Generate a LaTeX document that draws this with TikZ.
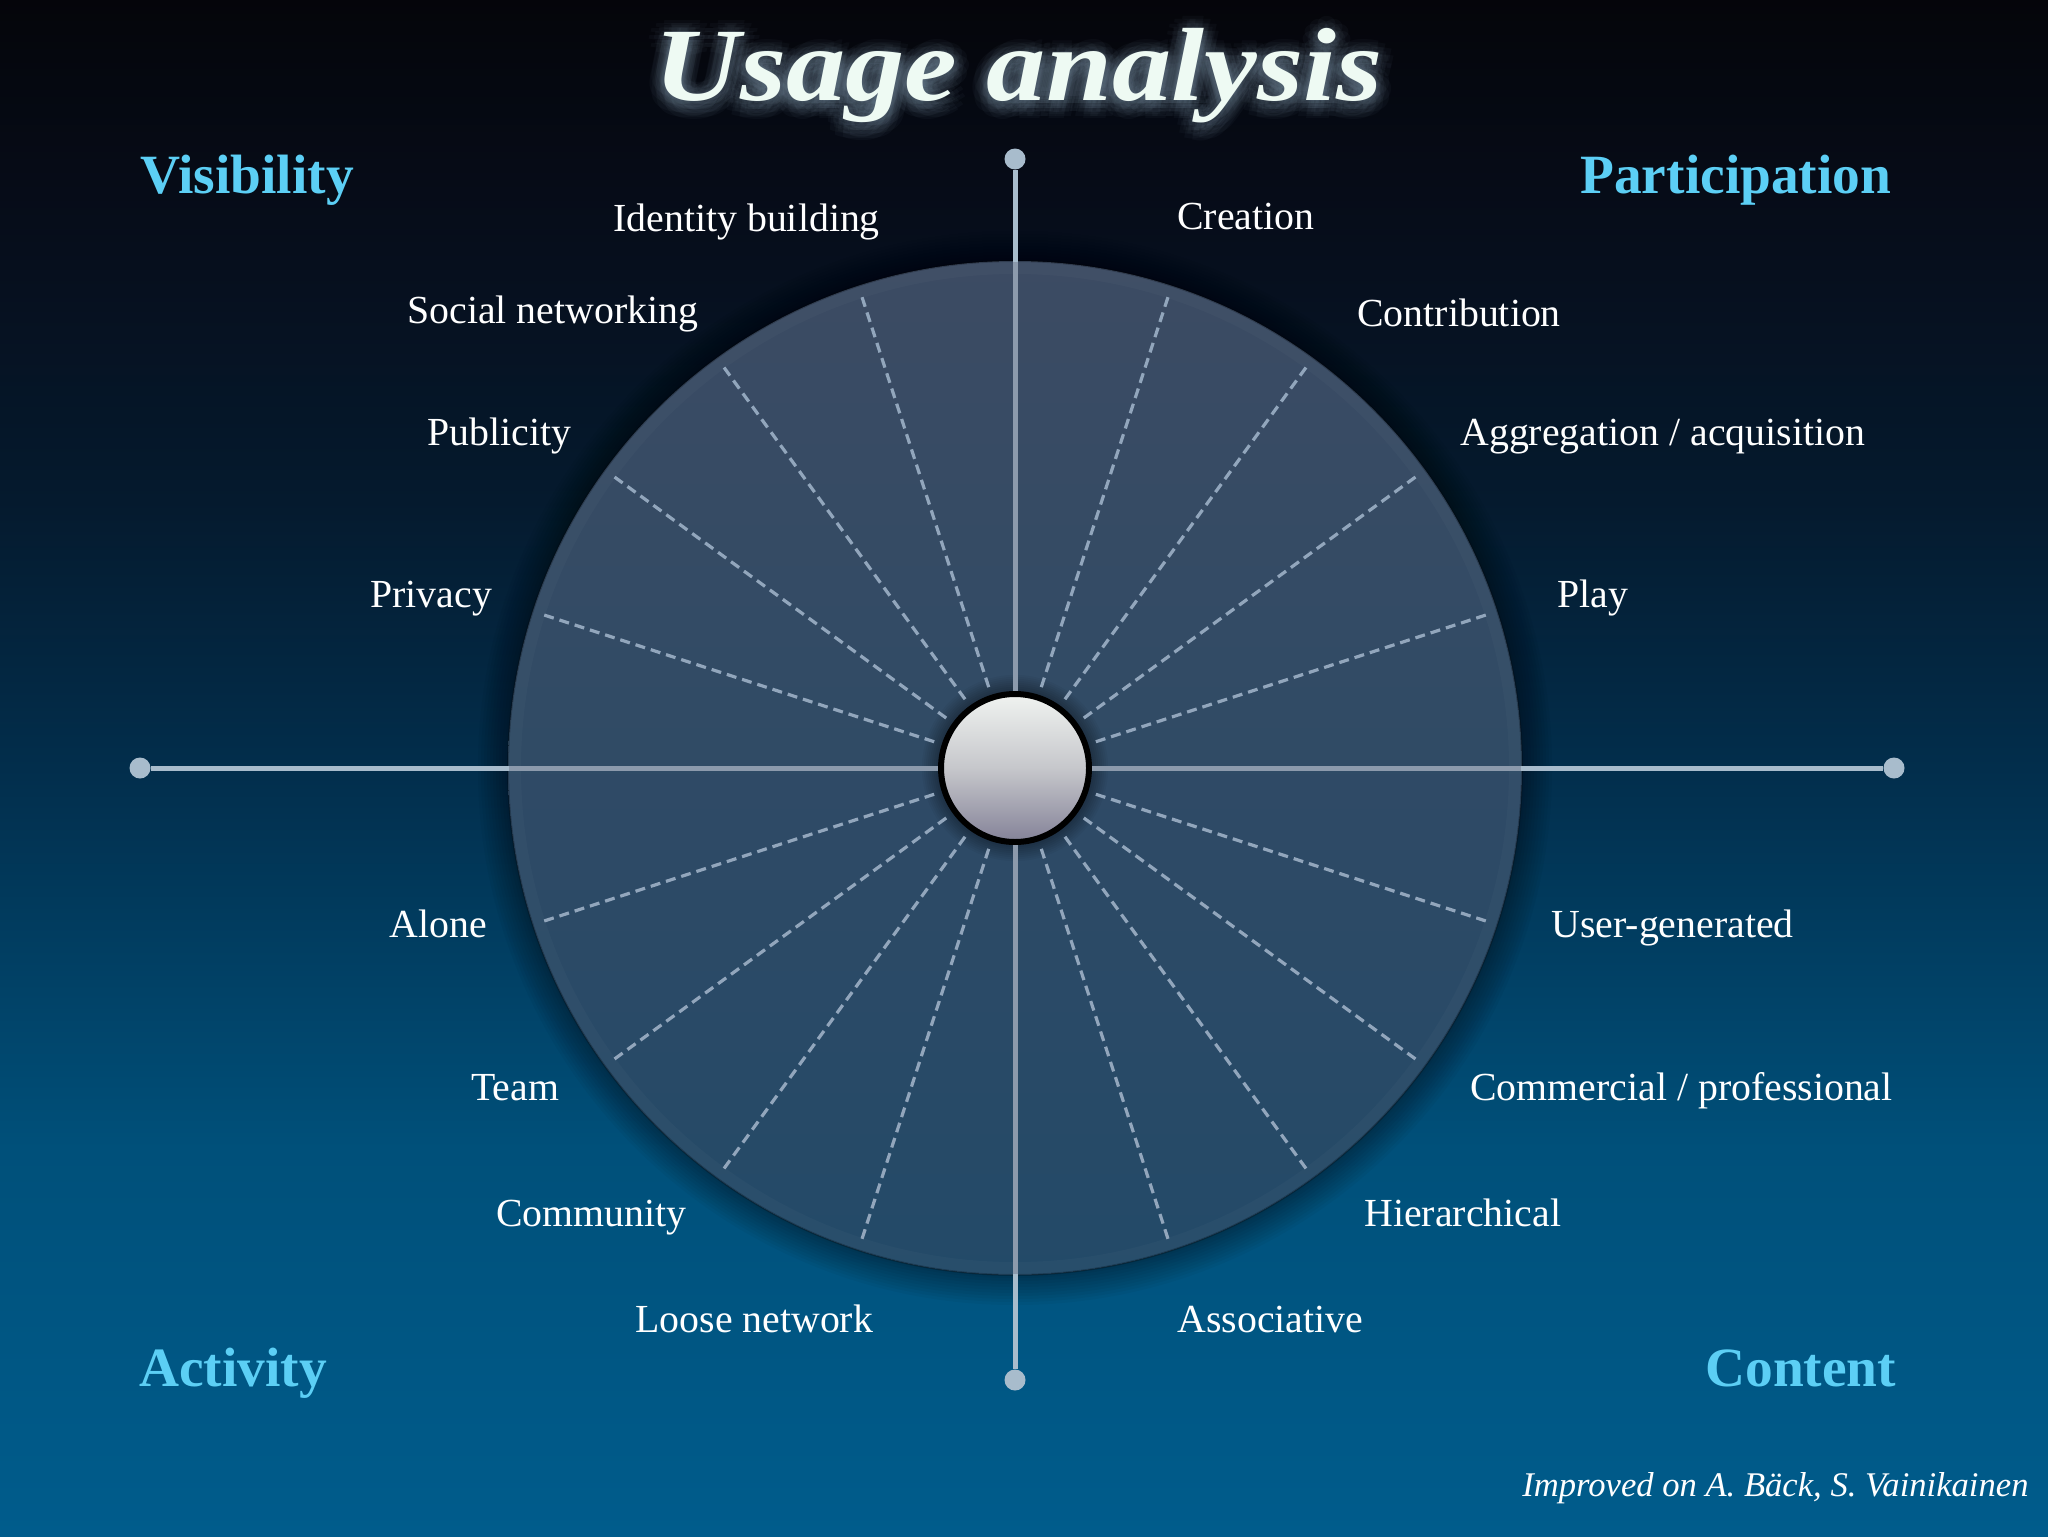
\documentclass[tikz,border=0pt]{standalone}
\usepackage{fontspec}
\setmainfont{Liberation Serif}
\usepackage{graphicx}
\usetikzlibrary{calc}
\definecolor{bgB}{RGB}{0,92,140}
\definecolor{bgA}{RGB}{0,80,122}
\definecolor{bgM}{RGB}{2,46,76}
\definecolor{bgC}{RGB}{5,26,46}
\definecolor{bgD}{RGB}{6,14,28}
\definecolor{bgT}{RGB}{5,5,10}
\definecolor{circT}{RGB}{60,75,99}
\definecolor{circB}{RGB}{35,74,104}
\definecolor{axisc}{RGB}{168,188,204}
\definecolor{axisin}{RGB}{140,154,172}
\definecolor{dashc}{RGB}{146,166,188}
\definecolor{hdrc}{RGB}{92,207,245}
\definecolor{titlec}{RGB}{238,250,243}
\definecolor{glowc}{RGB}{140,165,185}
\definecolor{ballT}{RGB}{240,243,240}
\definecolor{ballM}{RGB}{198,199,203}
\definecolor{ballB}{RGB}{132,130,152}
\pgfdeclareverticalshading{bgshade}{100bp}{color(0bp)=(bgB); color(25bp)=(bgB); color(37.6bp)=(bgA); color(50bp)=(bgM); color(58.7bp)=(bgC); color(66.9bp)=(bgD); color(75bp)=(bgT); color(100bp)=(bgT)}
\tikzset{
  lbl/.style={anchor=base west, inner sep=0pt, text=white, font=\fontsize{19.9}{24}\selectfont},
  hdr/.style={anchor=base west, inner sep=0pt, text=hdrc, font=\bfseries\fontsize{27.7}{32}\selectfont},
  axisln/.style={draw=axisc, line width=2.5pt},
  axisinner/.style={draw=axisin, line width=2.5pt},
  enddot/.style={circle, fill=axisc, inner sep=0pt, minimum size=10.5pt},
  dashln/.style={draw=dashc, line width=1.6pt, dash pattern=on 5pt off 3pt},
  ttl/.style={anchor=base west, inner sep=0pt},
}
\newcommand{\ttltext}{\scalebox{1.14}[1]{\bfseries\itshape\fontsize{52}{60}\selectfont Usage analysis}}
\begin{document}
\begin{tikzpicture}[x=0.5pt,y=-0.5pt]
\path[shading=bgshade] (0,0) rectangle (2048,1536);
\useasboundingbox (0,0) rectangle (2048,1536);
\coordinate (O) at (1015,768);
% halo around disc
\foreach \k in {3,6,...,30} \fill[black, opacity=0.035] (O) circle (507+\k);
% disc
\fill[top color=circT, bottom color=circB] (O) circle (507);
\draw[white, opacity=0.025, line width=6pt] (O) circle (500);
\draw[black, opacity=0.2, line width=1pt] (O) circle (507);
% axes
\node[enddot] (dT) at (1015,159) {};
\node[enddot] (dB) at (1015,1380) {};
\node[enddot] (dL) at (140,768) {};
\node[enddot] (dR) at (1894,768) {};
\draw[axisln] (dT) -- (dB);
\draw[axisln] (dL) -- (dR);
\coordinate (cT) at (1015,262);
\coordinate (cB) at (1015,1274);
\coordinate (cL) at (509,768);
\coordinate (cR) at (1521,768);
% ball halo
\foreach \k in {2,4,...,16} \fill[black, opacity=0.04] (O) circle (77+\k);
\node[circle, draw=black, line width=3pt, minimum size=74pt, inner sep=0pt,
      top color=ballT, bottom color=ballB, middle color=ballM] (ball) at (O) {};
\draw[axisinner] (cT) -- (ball);
\draw[axisinner] (cB) -- (ball);
\draw[axisinner] (cL) -- (ball);
\draw[axisinner] (cR) -- (ball);
% radial dashed lines
\foreach \a in {18,36,54,72,108,126,144,162,198,216,234,252,288,306,324,342} {
  \coordinate (r\a) at ($(O)+({497*cos(\a)},{-497*sin(\a)})$);
  \draw[dashln, shorten <=4pt] (ball) -- (r\a);
}
% title with soft glow
\foreach \r in {5,10,15} {
  \foreach \t in {0,30,...,330} {
    \node[ttl, text=glowc, text opacity=0.045] (g-\r-\t) at ({654+\r*cos(\t)},{104+\r*sin(\t)}) {\ttltext};
  }
}
\node[ttl, text=titlec] (title) at (654,100) {\ttltext};
% headers
\node[hdr] (hVis) at (140,193) {Visibility};
\node[hdr] (hPar) at (1580,193) {Participation};
\node[hdr] (hAct) at (139,1386) {Activity};
\node[hdr] (hCon) at (1705,1386) {Content};
% labels
\node[lbl] (l1) at (613,231) {Identity building};
\node[lbl] (l2) at (407,323) {Social networking};
\node[lbl] (l3) at (427,445) {Publicity};
\node[lbl] (l4) at (370,607) {Privacy};
\node[lbl] (l5) at (1177,229) {Creation};
\node[lbl] (l6) at (1357,326) {Contribution};
\node[lbl] (l7) at (1460,445) {Aggregation / acquisition};
\node[lbl] (l8) at (1557,607) {Play};
\node[lbl] (l9) at (389,937) {Alone};
\node[lbl] (l10) at (471,1100) {Team};
\node[lbl] (l11) at (496,1226) {Community};
\node[lbl] (l12) at (635,1332) {Loose network};
\node[lbl] (l13) at (1551,937) {User-generated};
\node[lbl] (l14) at (1470,1100) {Commercial / professional};
\node[lbl] (l15) at (1364,1226) {Hierarchical};
\node[lbl] (l16) at (1177,1332) {Associative};
% credit
\node[anchor=base west, inner sep=0pt, text=white, font=\itshape\fontsize{17.3}{20}\selectfont] (credit) at (1522,1496) {Improved on A. Bäck, S. Vainikainen};
\end{tikzpicture}
\end{document}
